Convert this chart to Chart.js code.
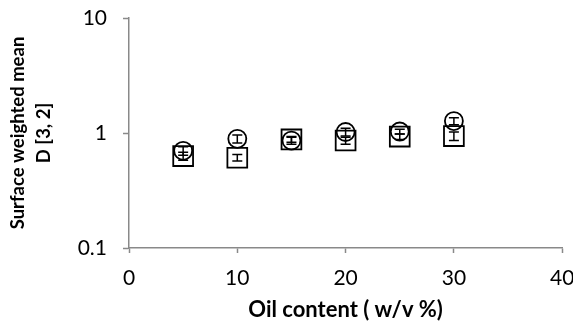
<!DOCTYPE html>
<html>
<head>
<meta charset="utf-8">
<script src="https://cdn.jsdelivr.net/npm/chart.js@4.4.1/dist/chart.umd.min.js"></script>
<style>
  html, body { margin: 0; background: #fff; overflow: hidden; }
</style>
</head>
<body>
<canvas id="chart" width="578" height="321"></canvas>
<script>
// oil content (w/v %)
const oilContent = [5, 10, 15, 20, 25, 30];

// circle series and its error
const circleMeans = [0.70, 0.89, 0.86, 1.02, 1.03, 1.27];
const circleErrors = [0.06, 0.07, 0.06, 0.08, 0.05, 0.09];

// square series and its error
const squareMeans = [0.63, 0.61, 0.88, 0.86, 0.93, 0.94];
const squareErrors = [0.05, 0.04, 0.05, 0.06, 0.05, 0.08];

const yTicks = [0.1, 1, 10];
const xTicks = [0, 10, 20, 30, 40];

const axisColor = '#898989';
const fontFamily = 'Lato, "Open Sans", sans-serif';

function points(means) {
    return oilContent.map((x, i) => ({ x: x, y: means[i] }));
}

// one little two-point line per error bar, caps drawn as 'line' point style
function errorBars(means, errors) {
    return oilContent.map((x, i) => ({
        data: [
            { x: x, y: means[i] - errors[i] },
            { x: x, y: means[i] + errors[i] }
        ],
        showLine: true,
        borderColor: '#000',
        borderWidth: 1.5,
        pointStyle: 'line',
        pointRadius: 5,
        pointBorderColor: '#000',
        pointBorderWidth: 1.5,
        order: 2
    }));
}

const datasets = [
    {
        label: 'circle',
        data: points(circleMeans),
        pointStyle: 'circle',
        pointRadius: 9,
        pointBorderColor: '#000',
        pointBorderWidth: 1.8,
        pointBackgroundColor: 'rgba(0,0,0,0)',
        order: 0
    },
    {
        label: 'square',
        data: points(squareMeans),
        pointStyle: 'rect',
        pointRadius: 14,
        pointBorderColor: '#000',
        pointBorderWidth: 1.8,
        pointBackgroundColor: 'rgba(0,0,0,0)',
        order: 1
    }
].concat(errorBars(circleMeans, circleErrors), errorBars(squareMeans, squareErrors));

new Chart(document.getElementById('chart').getContext('2d'), {
    type: 'scatter',
    data: { datasets: datasets },
    options: {
        responsive: false,
        animation: false,
        layout: { padding: { left: 0, right: 0, top: 18, bottom: 0 } },
        plugins: {
            legend: { display: false },
            tooltip: { enabled: false }
        },
        scales: {
            x: {
                type: 'linear',
                min: 0,
                max: 40,
                afterBuildTicks: scale => {
                    scale.ticks = xTicks.map(v => ({ value: v }));
                },
                afterFit: scale => {
                    scale.height = 73;
                    scale.paddingLeft = 0;
                    scale.paddingRight = 12;
                },
                grid: {
                    drawOnChartArea: false,
                    drawTicks: true,
                    tickLength: 5,
                    tickColor: axisColor,
                    tickWidth: 1.5
                },
                border: { color: axisColor, width: 1.5 },
                ticks: {
                    padding: 13,
                    color: '#000',
                    font: { family: fontFamily, size: 21 }
                },
                title: {
                    display: true,
                    text: 'Oil content ( w/v %)',
                    color: '#000',
                    padding: { top: 0, bottom: 0 },
                    font: { family: fontFamily, size: 22, weight: 'bold', lineHeight: 1.0 }
                }
            },
            y: {
                type: 'logarithmic',
                min: 0.1,
                max: 10,
                afterBuildTicks: scale => {
                    scale.ticks = yTicks.map(v => ({ value: v }));
                },
                afterFit: scale => {
                    scale.width = 129;
                    scale.paddingTop = 0;
                    scale.paddingBottom = 0;
                },
                grid: {
                    drawOnChartArea: false,
                    drawTicks: true,
                    tickLength: 6,
                    tickColor: axisColor,
                    tickWidth: 1.5
                },
                border: { color: axisColor, width: 1.5 },
                ticks: {
                    padding: 16,
                    color: '#000',
                    font: { family: fontFamily, size: 21 },
                    callback: value => String(value)
                },
                title: {
                    display: true,
                    text: ['Surface weighted mean', 'D [3, 2]'],
                    color: '#000',
                    padding: { top: 5, bottom: 0 },
                    font: { family: fontFamily, size: 18.5, weight: 'bold', lineHeight: 1.4 }
                }
            }
        }
    }
});
</script>
</body>
</html>
